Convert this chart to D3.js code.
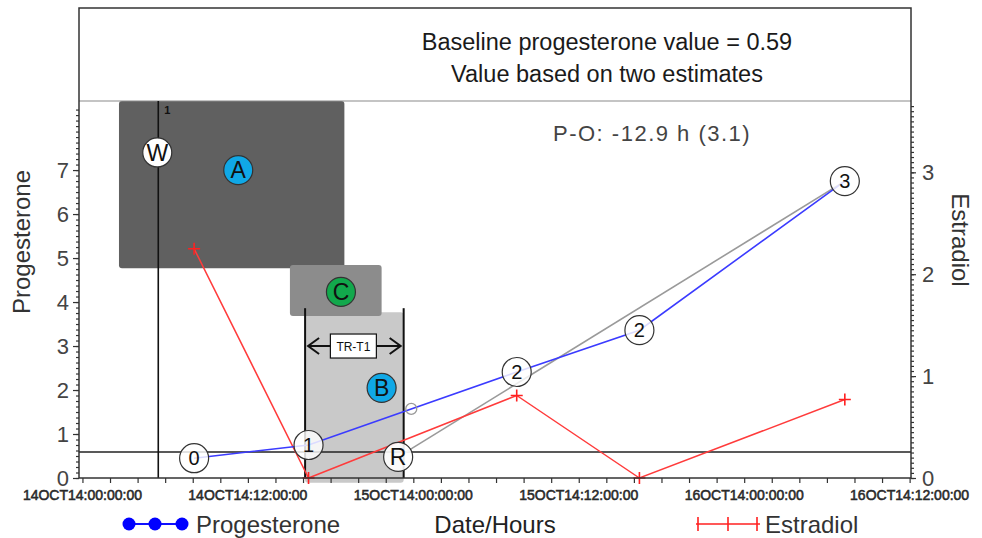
<!DOCTYPE html>
<html>
<head>
<meta charset="utf-8">
<script src="https://cdn.jsdelivr.net/npm/d3@7"></script>
<style>
body{margin:0;background:#fff}
text{font-family:"Liberation Sans",Arial,sans-serif}
</style>
</head>
<body>
<script>
// sample times in hours after 14OCT14:00:00:00
var sampleHours = [8.1, 16.4, 31.5, 40.4, 55.3];
var progesterone = [0.45, 0.75, 2.41, 3.36, 6.75];
var estradiol = [2.25, 0, 0.81, 0, 0.77];
var sampleLabels = ["0", "1", "2", "2", "3"];
var xTickLabels = ["14OCT14:00:00:00", "14OCT14:12:00:00", "15OCT14:00:00:00",
                   "15OCT14:12:00:00", "16OCT14:00:00:00", "16OCT14:12:00:00"];
var progTicks = [0, 1, 2, 3, 4, 5, 6, 7];
var estrTicks = [0, 1, 2, 3];
var baseline = 0.59;
var wHour = 5.5;
var rPoint = [22.9, 0.48];
var midPoint = [23.85, 1.57];
var trHours = [16.15, 23.3];
// shaded windows: [hourStart, hourEnd, progLow, progHigh]
var boxA = [2.65, 19.0, 4.77, 8.57];
var boxC = [15.05, 21.7, 3.68, 4.84];
var boxB = [16.15, 23.3, -0.11, 3.77];

var width = 982, height = 538;
var mLeft = 79, mRight = 911, mTop = 8, plotTop = 101, mBottom = 478;

var svg = d3.select("body").append("svg").attr("width", width).attr("height", height);

var x = d3.scaleLinear().domain([-0.25, 60.1]).range([mLeft, mRight]);
var yL = d3.scaleLinear().domain([0, 8.57]).range([mBottom, plotTop]);
var yR = d3.scaleLinear().domain([0, 3.7]).range([mBottom, plotTop]);

// boxes
function box(b, fill) {
  svg.append("rect")
    .attr("x", x(b[0])).attr("y", yL(b[3]))
    .attr("width", x(b[1]) - x(b[0])).attr("height", yL(b[2]) - yL(b[3]))
    .attr("rx", 3).attr("fill", fill);
}
box(boxA, "#606060");
box(boxB, "#c9c9c9");
box(boxC, "#8c8c8c");

// header divider
svg.append("line").attr("x1", mLeft).attr("x2", mRight).attr("y1", plotTop).attr("y2", plotTop)
  .attr("stroke", "#8a8a8a").attr("stroke-width", 1.2);

// baseline progesterone
svg.append("line").attr("x1", mLeft).attr("x2", mRight).attr("y1", yL(baseline)).attr("y2", yL(baseline))
  .attr("stroke", "#222").attr("stroke-width", 1.6);

// W line
svg.append("line").attr("x1", x(wHour)).attr("x2", x(wHour)).attr("y1", plotTop).attr("y2", mBottom)
  .attr("stroke", "#111").attr("stroke-width", 1.6);
svg.append("text").attr("x", x(wHour) + 6).attr("y", plotTop + 13).text("1")
  .attr("font-size", 11).attr("font-weight", "bold").attr("fill", "#111");

// TR-T1 lines
trHours.forEach(function(h){
  svg.append("line").attr("x1", x(h)).attr("x2", x(h)).attr("y1", yL(3.86)).attr("y2", mBottom)
    .attr("stroke", "#111").attr("stroke-width", 2);
});
var ay = yL(3.0);
var ax1 = x(trHours[0]) + 3, ax2 = x(trHours[1]) - 3;
svg.append("line").attr("x1", ax1).attr("x2", ax2).attr("y1", ay).attr("y2", ay).attr("stroke", "#111").attr("stroke-width", 2);
svg.append("path").attr("d", "M" + (ax1 + 11) + "," + (ay - 8) + "L" + ax1 + "," + ay + "L" + (ax1 + 11) + "," + (ay + 8))
  .attr("fill", "none").attr("stroke", "#111").attr("stroke-width", 2);
svg.append("path").attr("d", "M" + (ax2 - 11) + "," + (ay - 8) + "L" + ax2 + "," + ay + "L" + (ax2 - 11) + "," + (ay + 8))
  .attr("fill", "none").attr("stroke", "#111").attr("stroke-width", 2);
var mx = (x(trHours[0]) + x(trHours[1])) / 2 - 1;
svg.append("rect").attr("x", mx - 23).attr("y", ay - 12).attr("width", 46).attr("height", 24)
  .attr("fill", "#fff").attr("stroke", "#111").attr("stroke-width", 1.2);
svg.append("text").attr("x", mx).attr("y", ay + 4.5).attr("text-anchor", "middle")
  .attr("font-size", 12).attr("fill", "#111").text("TR-T1");

// gray regression line from R to last sample
svg.append("line").attr("x1", x(rPoint[0])).attr("y1", yL(rPoint[1]))
  .attr("x2", x(sampleHours[4])).attr("y2", yL(progesterone[4]))
  .attr("stroke", "#9a9a9a").attr("stroke-width", 1.6);

// estradiol
var pts = sampleHours.map(function(h, i){ return {h: h, p: progesterone[i], e: estradiol[i], l: sampleLabels[i]}; });
svg.append("path").datum(pts)
  .attr("d", d3.line().x(function(d){ return x(d.h); }).y(function(d){ return yR(d.e); }))
  .attr("fill", "none").attr("stroke", "#ff3b3b").attr("stroke-width", 1.5);
svg.selectAll(".eplus").data(pts).enter().append("path").attr("class", "eplus")
  .attr("d", function(d){ var cx = x(d.h), cy = yR(d.e);
    return "M" + (cx - 6) + "," + cy + "H" + (cx + 6) + "M" + cx + "," + (cy - 6) + "V" + (cy + 6); })
  .attr("stroke", "#ff2020").attr("stroke-width", 1.6);

// progesterone
svg.append("path").datum(pts)
  .attr("d", d3.line().x(function(d){ return x(d.h); }).y(function(d){ return yL(d.p); }))
  .attr("fill", "none").attr("stroke", "#3b3bff").attr("stroke-width", 1.6);
svg.append("circle").attr("cx", x(midPoint[0])).attr("cy", yL(midPoint[1])).attr("r", 5.5)
  .attr("fill", "none").attr("stroke", "#999").attr("stroke-width", 1.3);

// frame
svg.append("rect").attr("x", mLeft).attr("y", mTop).attr("width", mRight - mLeft).attr("height", mBottom - mTop)
  .attr("fill", "none").attr("stroke", "#333").attr("stroke-width", 1.5);

// axes
svg.append("g").attr("transform", "translate(0," + mBottom + ")")
  .call(d3.axisBottom(x).tickValues(d3.range(0, 61, 2)).tickSize(5).tickFormat(""));
svg.append("g").selectAll("text").data(d3.range(0, 61, 12)).enter().append("text")
  .attr("x", function(d){ return x(d); }).attr("y", mBottom + 22).attr("text-anchor", "middle")
  .attr("font-size", 14).attr("fill", "#2a2a2a").attr("stroke", "#2a2a2a").attr("stroke-width", 0.55)
  .text(function(d, i){ return xTickLabels[i]; });

svg.append("g").attr("transform", "translate(" + mLeft + ",0)")
  .call(d3.axisLeft(yL).tickValues(d3.range(0, 8.5, 0.125)).tickSize(3).tickFormat(""));
var yAxis = svg.append("g").attr("transform", "translate(" + mLeft + ",0)")
  .call(d3.axisLeft(yL).tickValues(progTicks).tickSize(6).tickPadding(4).tickFormat(d3.format("d")));
yAxis.selectAll("text").attr("font-size", 22).attr("fill", "#444").attr("font-family", "Liberation Sans, Arial");

svg.append("g").attr("transform", "translate(" + mRight + ",0)")
  .call(d3.axisRight(yR).tickValues(d3.range(0, 3.7, 0.05)).tickSize(3).tickFormat(""));
var rAxis = svg.append("g").attr("transform", "translate(" + mRight + ",0)")
  .call(d3.axisRight(yR).tickValues(estrTicks).tickSize(5).tickPadding(6).tickFormat(d3.format("d")));
rAxis.selectAll("text").attr("font-size", 22).attr("fill", "#444").attr("font-family", "Liberation Sans, Arial");

svg.selectAll(".domain").remove();
svg.selectAll(".tick line").attr("stroke", "#333").attr("stroke-width", 1.2);

// circles with labels
function badge(cx, cy, label, fill, size, opacity) {
  svg.append("circle").attr("cx", cx).attr("cy", cy).attr("r", 14.5)
    .attr("fill", fill).attr("fill-opacity", opacity)
    .attr("stroke", "#333").attr("stroke-width", 1.2);
  svg.append("text").attr("x", cx).attr("y", cy + size * 0.36).attr("text-anchor", "middle")
    .attr("font-size", size).attr("fill", "#111").text(label);
}
pts.forEach(function(d){ badge(x(d.h), yL(d.p), d.l, "#fff", 20, 0.82); });
badge(x(rPoint[0]), yL(rPoint[1]), "R", "#fff", 23, 0.9);
badge(x(wHour) - 1, yL(7.4), "W", "#fff", 23, 1);
badge(x(11.3), yL(7.0), "A", "#10a8e6", 23, 1);
badge(x(18.75), yL(4.23), "C", "#12a84c", 23, 1);
badge(x(21.7), yL(2.05), "B", "#10a8e6", 23, 1);

// header text
svg.append("text").attr("x", 607).attr("y", 50).attr("text-anchor", "middle")
  .attr("font-family", "Lato").attr("font-size", 23.5).attr("fill", "#1a1a1a")
  .text("Baseline progesterone value = 0.59");
svg.append("text").attr("x", 607).attr("y", 82).attr("text-anchor", "middle")
  .attr("font-family", "Lato").attr("font-size", 23.5).attr("fill", "#1a1a1a")
  .text("Value based on two estimates");
svg.append("text").attr("x", 553).attr("y", 141).attr("letter-spacing", 1.5)
  .attr("font-size", 22).attr("fill", "#444").text("P-O: -12.9 h (3.1)");

// axis titles
svg.append("text").attr("transform", "translate(30,242) rotate(-90)").attr("text-anchor", "middle")
  .attr("font-size", 24).attr("fill", "#333").text("Progesterone");
svg.append("text").attr("transform", "translate(952,240) rotate(90)").attr("text-anchor", "middle")
  .attr("font-size", 24).attr("fill", "#333").text("Estradiol");

// legend
var ly = 524;
svg.append("line").attr("x1", 129).attr("x2", 182).attr("y1", ly).attr("y2", ly).attr("stroke", "#1010ff").attr("stroke-width", 2);
svg.selectAll(".ldot").data([129, 155, 182]).enter().append("circle")
  .attr("cx", function(d){ return d; }).attr("cy", ly).attr("r", 6.5).attr("fill", "#0000ff");
svg.append("text").attr("x", 196).attr("y", ly + 8.5).attr("font-size", 24).attr("fill", "#333").text("Progesterone");
svg.append("text").attr("x", 495).attr("y", ly + 8.5).attr("text-anchor", "middle")
  .attr("font-family", "Lato").attr("font-size", 24).attr("fill", "#222").text("Date/Hours");
svg.append("line").attr("x1", 696).attr("x2", 760).attr("y1", ly).attr("y2", ly).attr("stroke", "#ff2020").attr("stroke-width", 1.6);
svg.selectAll(".lplus").data([698, 728, 757]).enter().append("line")
  .attr("x1", function(d){ return d; }).attr("x2", function(d){ return d; })
  .attr("y1", ly - 7).attr("y2", ly + 7).attr("stroke", "#ff2020").attr("stroke-width", 1.6);
svg.append("text").attr("x", 765).attr("y", ly + 8.5).attr("font-size", 24).attr("fill", "#333").text("Estradiol");
</script>
</body>
</html>
